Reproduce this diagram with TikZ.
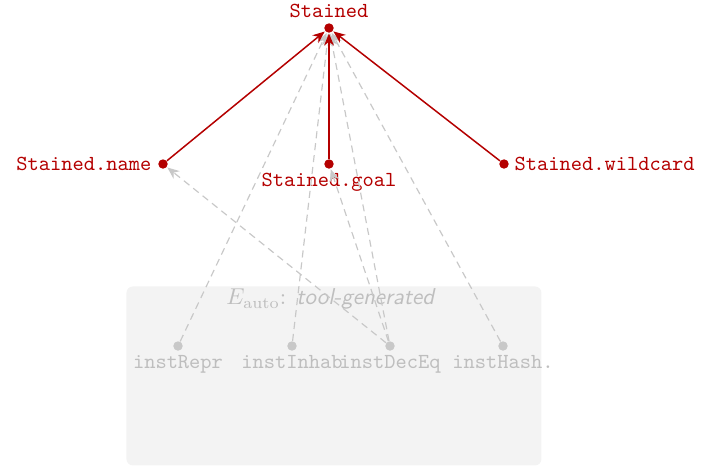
\documentclass[tikz,border=0pt]{standalone}
\usetikzlibrary{arrows.meta}
\definecolor{dred}{RGB}{180,0,0}
\definecolor{lgray}{RGB}{200,200,200}
\definecolor{tgray}{RGB}{190,190,190}
\definecolor{boxfill}{RGB}{243,243,243}
\begin{document}
\begin{tikzpicture}[x=0.4667pt,y=-0.4667pt,
  reddot/.style={circle,fill=dred,inner sep=0pt,minimum size=4.4pt},
  graydot/.style={circle,fill=lgray,inner sep=0pt,minimum size=4.4pt},
  redlbl/.style={text=dred,font=\ttfamily,inner sep=1.5pt},
  graylbl/.style={text=tgray,font=\ttfamily,inner sep=1.5pt},
  redarr/.style={draw=dred,line width=0.7pt,-{Stealth[length=5.6pt,width=4.6pt,inset=1.8pt]},shorten >=0.2pt},
  grayarr/.style={draw=lgray,line width=0.55pt,dash pattern=on 3.3pt off 2.3pt,-{Stealth[length=5.6pt,width=4.6pt,inset=1.8pt]},shorten >=0.2pt}]
\useasboundingbox (0,0) rectangle (713,465);
% box
\node[fill=boxfill,rounded corners=3pt,minimum width=415*0.4667pt,minimum height=179*0.4667pt,inner sep=0pt,anchor=north west] (box) at (126,286) {};
\node[text=tgray,inner sep=0pt,scale=1.07] (title) at (331,299) {$E_{\mathrm{auto}}$: \textsf{\itshape tool-generated}};
% red nodes
\node[reddot] (S) at (329,28) {};
\node[redlbl,anchor=south] (Slbl) at (329,21) {Stained};
\node[reddot] (N) at (163,164) {};
\node[redlbl,anchor=east] (Nlbl) at (155,164) {Stained.name};
\node[reddot] (G) at (329,164) {};
\node[redlbl,anchor=north] (Glbl) at (329,170) {Stained.goal};
\node[reddot] (W) at (504,164) {};
\node[redlbl,anchor=west] (Wlbl) at (511,164) {Stained.wildcard};
% gray nodes
\node[graydot] (R) at (178,346) {};
\node[graylbl,anchor=north] (Rlbl) at (178,352) {instRepr};
\node[graydot] (I) at (292,346) {};
\node[graylbl,anchor=north] (Ilbl) at (292,352) {instInhab};
\node[graydot] (D) at (390,346) {};
\node[graylbl,anchor=north] (Dlbl) at (390,352) {instDecEq};
\node[graydot] (H) at (503,346) {};
\node[graylbl,anchor=north] (Hlbl) at (503,352) {instHash.};
% gray dashed arrows
\draw[grayarr] (R) -- (S);
\draw[grayarr] (I) -- (S);
\draw[grayarr] (D) -- (S);
\draw[grayarr] (H) -- (S);
\draw[grayarr] (D) -- (N);
\draw[grayarr] (D) -- (G);
% red arrows
\draw[redarr] (N) -- (S);
\draw[redarr] (G) -- (S);
\draw[redarr] (W) -- (S);
\end{tikzpicture}
\end{document}
